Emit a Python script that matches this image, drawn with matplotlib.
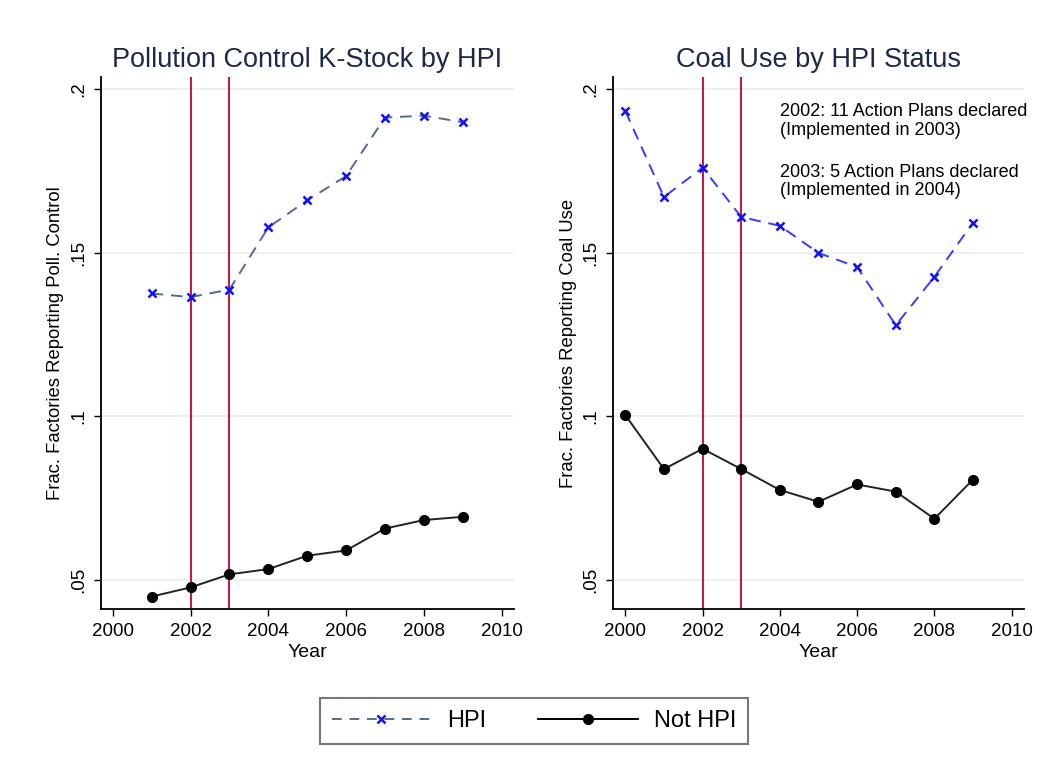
import numpy as np
import matplotlib
matplotlib.use("Agg")
import matplotlib.pyplot as plt
from matplotlib.lines import Line2D

plt.rcParams['font.family'] = ['Liberation Sans', 'DejaVu Sans']

# left panel: pollution control capital stock
years_k = [2001, 2002, 2003, 2004, 2005, 2006, 2007, 2008, 2009]
k_hpi = [0.1376, 0.1365, 0.1388, 0.1578, 0.1661, 0.1735, 0.1914, 0.1920, 0.1900]
k_not = [0.0449, 0.0477, 0.0517, 0.0533, 0.0574, 0.0590, 0.0657, 0.0683, 0.0693]

# right panel: coal use
years_c = [2000, 2001, 2002, 2003, 2004, 2005, 2006, 2007, 2008, 2009]
c_hpi = [0.1934, 0.1671, 0.1761, 0.1610, 0.1583, 0.1500, 0.1457, 0.1279, 0.1427, 0.1593]
c_not = [0.1004, 0.0839, 0.0901, 0.0839, 0.0775, 0.0739, 0.0792, 0.0770, 0.0687, 0.0807]

policy_years = [2002, 2003]
yticks = [0.05, 0.1, 0.15, 0.2]
ytick_labels = ['.05', '.1', '.15', '.2']
xticks = [2000, 2002, 2004, 2006, 2008, 2010]

title_col = '#1c2a4a'
red = '#cc1040'
grid_col = '#e6eeee'


def style_axis(ax, title, ylabel):
    ax.set_xlim(1999.69, 2010.32)
    ax.set_ylim(0.041, 0.2039)
    ax.set_yticks(yticks)
    ax.set_yticklabels(ytick_labels, rotation=90, va='center')
    ax.set_xticks(xticks)
    ax.tick_params(labelsize=13.5, length=5, width=1, colors='black', pad=5)
    for s in ['top', 'right']:
        ax.spines[s].set_visible(False)
    for s in ['left', 'bottom']:
        ax.spines[s].set_linewidth(1.3)
    ax.grid(axis='y', color=grid_col, lw=1.2)
    ax.set_axisbelow(True)
    ax.set_title(title, fontsize=19.5, color=title_col, pad=7)
    ax.set_ylabel(ylabel, fontsize=13.3, labelpad=4)
    ax.set_xlabel('Year', fontsize=14, labelpad=3)
    for yr in policy_years:
        ax.axvline(yr, color=red, lw=1.4, zorder=2)


fig = plt.figure(figsize=(10.49, 7.68), dpi=100)
ax1 = fig.add_axes([0.096, 0.2066, 0.394, 0.6935])
ax2 = fig.add_axes([0.5847, 0.2066, 0.3915, 0.6935])

style_axis(ax1, 'Pollution Control K-Stock by HPI', 'Frac. Factories Reporting Poll. Control')
ax1.plot(years_k, k_hpi, color='#4f6d8c', ls=(0, (6, 4)), lw=1.4, zorder=3)
ax1.plot(years_k, k_hpi, ls='none', marker='x', color='#1010ff', ms=6, mew=1.8, zorder=4)
ax1.plot(years_k, k_not, color='#222222', lw=1.4, marker='o', mfc='black', mec='black', ms=7, zorder=3)

style_axis(ax2, 'Coal Use by HPI Status', 'Frac. Factories Reporting Coal Use')
ax2.plot(years_c, c_hpi, color='#3a3aff', ls=(0, (6, 4)), lw=1.4, zorder=3)
ax2.plot(years_c, c_hpi, ls='none', marker='x', color='#1010ff', ms=6, mew=1.8, zorder=4)
ax2.plot(years_c, c_not, color='#222222', lw=1.4, marker='o', mfc='black', mec='black', ms=7, zorder=3)

ax2.text(2004.0, 0.1958, '2002: 11 Action Plans declared\n(Implemented in 2003)',
         fontsize=13, va='top', ha='left', linespacing=1.1)
ax2.text(2004.0, 0.1773, '2003: 5 Action Plans declared\n(Implemented in 2004)',
         fontsize=13, va='top', ha='left', linespacing=1.1)

handles = [
    Line2D([], [], color='#4f6d8c', ls=(0, (5, 4)), lw=1.4, marker='x', mec='#1010ff', ms=6, mew=1.8),
    Line2D([], [], color='black', lw=1.4, marker='o', mfc='black', ms=7),
]
leg = fig.legend(handles, ['HPI', 'Not HPI'], loc='center', bbox_to_anchor=(534 / 1049, 1 - 721 / 768),
                 ncol=2, fontsize=17, handlelength=4.2, handletextpad=0.7, columnspacing=2.2,
                 frameon=True, fancybox=False, edgecolor='#555555', borderpad=0.5, borderaxespad=0)
leg.get_frame().set_linewidth(1.5)

fig.savefig('out.png', dpi=100, facecolor='white')
